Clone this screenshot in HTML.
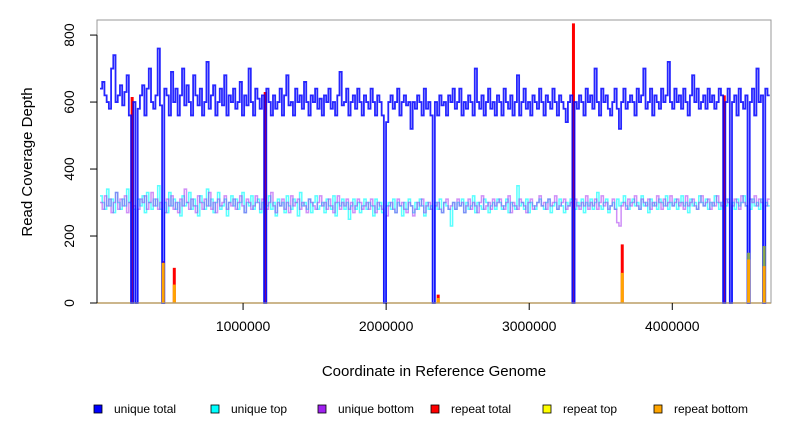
<!DOCTYPE html>
<html><head><meta charset="utf-8"><style>
body{margin:0;background:#fff;}
svg{display:block;font-family:"Liberation Sans",sans-serif;}
</style></head><body>
<svg id="chart" width="792" height="432" viewBox="0 0 792 432">
<rect x="0" y="0" width="792" height="432" fill="#fff"/>
<g id="marks"></g>
<rect x="97" y="20" width="674" height="283" fill="none" stroke="#999" stroke-width="1"/>
<g id="axes"></g>
<text x="32" y="162" transform="rotate(-90 32 162)" text-anchor="middle" font-size="15" fill="#000">Read Coverage Depth</text>
<text x="434" y="376" text-anchor="middle" font-size="15" fill="#000">Coordinate in Reference Genome</text>
<g id="legend"></g>
</svg>
<script>
const binSize = 15500;
const uniqueTotal = [
640,660,620,600,580,700,740,600,620,650,590,630,680,560,0,600,0,580,620,650,
560,640,700,600,580,620,760,590,0,640,620,560,690,600,640,560,620,700,590,650,
600,560,680,620,590,640,560,600,720,580,620,650,560,600,640,590,680,560,620,600,
640,580,600,660,560,620,590,700,600,560,640,610,580,620,0,640,600,560,620,580,
600,640,560,620,680,590,600,560,640,600,620,580,660,600,560,620,600,640,580,610,
560,620,600,640,580,600,560,620,690,590,600,640,560,600,620,580,640,600,560,620,
600,580,640,600,560,620,600,560,0,540,600,620,580,600,640,560,600,620,590,600,
520,600,580,620,600,560,640,580,600,560,0,600,560,620,590,600,560,620,600,640,
580,600,640,560,600,580,620,600,560,700,600,580,620,560,600,640,580,600,560,620,
600,560,640,600,580,620,560,600,680,560,600,640,580,600,560,620,600,580,640,600,
560,620,600,580,640,600,560,620,600,580,540,600,620,0,600,580,620,600,560,640,
600,620,580,700,600,560,640,600,620,580,560,600,640,580,520,600,640,580,600,620,
600,560,640,600,620,700,580,600,640,560,620,600,580,640,600,620,720,600,580,640,
600,620,580,640,600,560,620,680,600,640,580,600,620,580,640,600,620,580,600,640,
620,0,600,640,0,600,620,560,640,600,580,620,0,600,640,560,700,600,620,0,
640,620];
const uniqueTop = [
320,300,280,340,290,310,270,330,300,280,310,290,340,300,0,280,0,310,290,320,
270,330,300,280,310,290,350,280,0,300,270,330,290,310,280,300,260,320,290,300,
330,280,310,290,260,320,300,280,340,290,310,270,300,330,280,290,310,260,300,320,
290,310,280,300,330,270,300,290,320,280,300,310,270,300,0,290,320,280,300,260,
310,290,300,270,320,290,280,310,300,260,330,290,300,280,310,270,300,320,280,290,
300,270,310,290,280,320,260,300,290,310,280,300,250,290,310,280,300,270,290,310,
280,300,290,260,310,280,300,270,0,290,300,280,310,270,300,290,260,300,280,310,
290,270,300,280,310,290,260,300,280,290,0,300,280,310,270,300,290,280,230,300,
280,300,290,310,270,300,280,290,320,270,300,290,280,310,300,270,290,300,280,310,
300,280,290,310,270,300,290,280,350,290,300,280,310,270,300,290,280,300,310,290,
280,300,310,270,290,300,280,310,290,270,300,290,310,0,280,300,290,310,270,300,
290,310,280,300,330,290,280,300,310,270,290,300,280,310,290,300,320,290,280,300,
310,290,300,280,320,290,300,270,310,290,300,280,310,300,290,320,280,300,290,310,
280,300,320,290,300,270,310,290,300,280,320,300,290,310,280,300,290,320,300,280,
300,0,290,310,0,300,280,310,290,300,320,290,0,280,310,290,300,280,310,0,
300,290];
const uniqueBottom = [
300,280,320,290,310,270,300,330,280,310,290,320,270,300,0,290,0,280,310,300,
320,280,300,330,290,310,280,300,0,270,310,290,320,280,300,270,310,290,340,300,
280,310,290,270,320,300,280,310,290,330,280,300,270,310,290,300,320,280,300,290,
310,280,300,320,290,270,310,300,280,290,320,300,280,310,0,280,300,330,290,270,
300,290,310,280,300,270,320,290,300,310,280,300,290,270,310,300,290,280,300,320,
290,300,280,310,290,270,300,320,280,300,290,310,280,300,270,290,310,300,280,290,
300,280,310,290,270,300,290,280,0,260,290,300,280,270,310,290,300,280,270,300,
290,260,280,300,290,310,270,290,300,280,0,290,300,280,270,300,310,280,290,300,
280,310,290,300,270,290,310,280,300,290,270,300,320,280,290,300,280,310,290,300,
310,290,280,300,320,270,300,290,280,310,300,290,270,300,310,280,290,300,320,290,
300,280,310,290,300,320,280,290,300,310,280,290,300,0,310,290,280,300,290,320,
280,300,290,310,280,300,320,290,300,280,290,310,280,240,230,290,300,280,310,290,
300,320,290,280,310,300,290,310,280,300,290,320,300,280,310,290,300,320,290,300,
310,290,300,280,320,290,300,310,290,280,300,320,290,300,310,280,300,290,320,300,
290,0,310,300,0,290,310,300,280,320,300,290,0,310,300,320,290,310,300,0,
290,310];
const repeatBins = [14,28,33,74,152,213,235,281,292,299];
const repeatTotal = [615,125,105,630,25,835,175,620,150,170];
const repeatTop = [0,0,0,0,0,0,0,0,150,170];
const repeatBottom = [0,120,55,0,15,0,90,0,130,110];
const yTicks = [0,200,400,600,800];
const xTicks = [1000000,2000000,3000000,4000000];
const legendLabels = ["unique total","unique top","unique bottom","repeat total","repeat top","repeat bottom"];
const legendColors = ["#0000ff","#00ffff","#a020f0","#ff0000","#ffff00","#ffa500"];

const NS = "http://www.w3.org/2000/svg";
const xMin = -21000, xMax = 4690000, yMin = 0, yMax = 845;
const pL = 97, pR = 771, pT = 20, pB = 303;
function xs(v){ return pL + (v - xMin) / (xMax - xMin) * (pR - pL); }
function ys(v){ return pB - (v - yMin) / (yMax - yMin) * (pB - pT); }
function mk(tag, attrs, parent){ const e = document.createElementNS(NS, tag); for (const k in attrs) e.setAttribute(k, attrs[k]); parent.appendChild(e); return e; }

const marks = document.getElementById('marks');
const axes = document.getElementById('axes');
const legend = document.getElementById('legend');

function stepPath(vals){
  let d = "M" + xs(0).toFixed(2) + "," + ys(vals[0]).toFixed(2);
  for (let i = 0; i < vals.length; i++){
    d += "V" + ys(vals[i]).toFixed(2) + "H" + xs((i + 1) * binSize).toFixed(2);
  }
  return d;
}

const base = mk('line', {x1: pL, x2: pR, y1: ys(0), y2: ys(0), stroke: '#ffa500', 'stroke-width': 1.5}, marks);



repeatBins.forEach((b, i) => {
  const cx = xs((b + 0.5) * binSize);
  const l = mk('line', {x1: cx, x2: cx, y1: ys(0), y2: ys(repeatTotal[i]), stroke: '#ff0000', 'stroke-width': 3}, marks);
  
  
});

const series = [
  [uniqueTop, '#00ffff', 0.65, 1.5, 'unique-top-line'],
  [uniqueBottom, '#a020f0', 0.5, 1.5, 'unique-bottom-line'],
  [uniqueTotal, '#0000ff', 0.85, 1.8, 'unique-total-line']
];
series.forEach(s => {
  const p = mk('path', {d: stepPath(s[0]), fill: 'none', stroke: s[1], 'stroke-opacity': s[2], 'stroke-width': s[3]}, marks);
  
  
});

repeatBins.forEach((b, i) => {
  const cx = xs((b + 0.5) * binSize);
  if (repeatTop[i] > 0){
    const t = mk('line', {x1: cx, x2: cx, y1: ys(0), y2: ys(repeatTop[i]), stroke: '#9acd32', 'stroke-opacity': 0.8, 'stroke-width': 3}, marks);
    
    
  }
  if (repeatBottom[i] > 0){
    const o = mk('line', {x1: cx, x2: cx, y1: ys(0), y2: ys(repeatBottom[i]), stroke: '#ffa500', 'stroke-width': 3}, marks);
    
    
  }
});

const yl = mk('line', {x1: pL, x2: pL, y1: ys(0), y2: ys(800), stroke: '#000', 'stroke-width': 1}, axes);


yTicks.forEach(t => {
  const y = ys(t);
  const tk = mk('line', {x1: pL - 7, x2: pL, y1: y, y2: y, stroke: '#000'}, axes);
  
  
  const tx = mk('text', {x: 74, y: y, transform: 'rotate(-90 74 ' + y + ')', 'text-anchor': 'middle', 'font-size': 14}, axes);
  tx.textContent = t;
  
  
});
xTicks.forEach(t => {
  const x = xs(t);
  const tk = mk('line', {x1: x, x2: x, y1: pB, y2: pB + 7, stroke: '#000'}, axes);
  
  
  const tx = mk('text', {x: x, y: 331, 'text-anchor': 'middle', 'font-size': 14}, axes);
  tx.textContent = t;
  
  
});

const legX = [94, 211, 318, 431, 543, 654];
legendLabels.forEach((lab, i) => {
  const r = mk('rect', {x: legX[i], y: 405, width: 8, height: 8, fill: legendColors[i], stroke: '#000', 'stroke-width': 0.8}, legend);
  
  
  const t = mk('text', {x: legX[i] + 20, y: 413, 'font-size': 12}, legend);
  t.textContent = lab;
  
  
});
</script>
</body></html>
